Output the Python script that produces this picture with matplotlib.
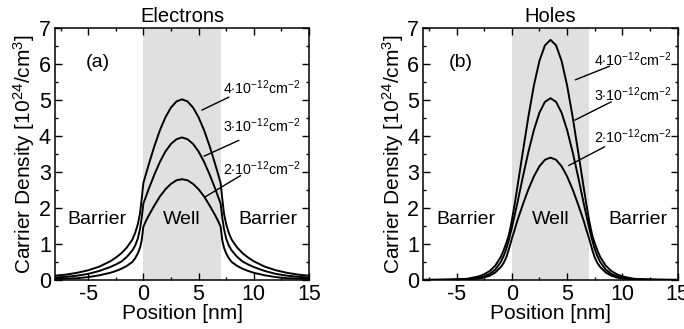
import matplotlib
matplotlib.use("Agg")
import matplotlib.pyplot as plt
from matplotlib.ticker import MultipleLocator

plt.rcParams['font.family'] = ['Liberation Sans', 'DejaVu Sans']
plt.rcParams['mathtext.fontset'] = 'custom'
plt.rcParams['mathtext.rm'] = 'Liberation Sans'
plt.rcParams['mathtext.it'] = 'Liberation Sans:italic'
plt.rcParams['mathtext.bf'] = 'Liberation Sans:bold'
plt.rcParams['axes.unicode_minus'] = False

# ---- data ----
position = [-8, -7, -6, -5, -4, -3, -2.5, -2, -1.5, -1, -0.75, -0.5, -0.3, -0.15,
            0, 0.25, 0.5, 1, 1.5, 2, 2.5, 3, 3.5, 4, 4.5, 5, 5.5, 6, 6.5, 6.75, 7,
            7.15, 7.3, 7.5, 7.75, 8, 8.5, 9, 9.5, 10, 11, 12, 13, 14, 15]

electrons_4 = [0.12, 0.15, 0.20, 0.27, 0.37, 0.52, 0.62, 0.74, 0.90, 1.12, 1.30, 1.55, 1.85, 2.25,
               2.69, 2.96, 3.22, 3.72, 4.16, 4.52, 4.79, 4.96, 5.02, 4.96, 4.79, 4.52, 4.16, 3.72, 3.22, 2.96, 2.69,
               2.25, 1.85, 1.55, 1.30, 1.12, 0.90, 0.74, 0.62, 0.52, 0.37, 0.27, 0.20, 0.15, 0.12]
electrons_3 = [0.07, 0.09, 0.12, 0.17, 0.25, 0.36, 0.43, 0.51, 0.64, 0.82, 0.95, 1.15, 1.42, 1.72,
               2.12, 2.33, 2.54, 2.93, 3.28, 3.57, 3.78, 3.91, 3.96, 3.91, 3.78, 3.57, 3.28, 2.93, 2.54, 2.33, 2.12,
               1.72, 1.42, 1.15, 0.95, 0.82, 0.64, 0.51, 0.43, 0.36, 0.25, 0.17, 0.12, 0.09, 0.07]
electrons_2 = [0.03, 0.04, 0.05, 0.08, 0.13, 0.20, 0.25, 0.31, 0.39, 0.50, 0.60, 0.74, 0.90, 1.10,
               1.48, 1.65, 1.80, 2.07, 2.32, 2.52, 2.67, 2.77, 2.80, 2.77, 2.67, 2.52, 2.32, 2.07, 1.80, 1.65, 1.48,
               1.10, 0.90, 0.74, 0.60, 0.50, 0.39, 0.31, 0.25, 0.20, 0.13, 0.08, 0.05, 0.04, 0.03]

holes_4 = [0.004, 0.006, 0.01, 0.018, 0.035, 0.10, 0.16, 0.25, 0.40, 0.64, 0.82, 1.03, 1.22, 1.42,
           1.65, 2.10, 2.58, 3.57, 4.54, 5.41, 6.09, 6.52, 6.67, 6.52, 6.09, 5.41, 4.54, 3.57, 2.58, 2.10, 1.65,
           1.42, 1.22, 1.03, 0.82, 0.64, 0.40, 0.25, 0.16, 0.10, 0.035, 0.018, 0.01, 0.006, 0.004]
holes_3 = [0.003, 0.004, 0.007, 0.014, 0.03, 0.06, 0.10, 0.17, 0.29, 0.50, 0.66, 0.86, 1.08, 1.26,
           1.45, 1.79, 2.14, 2.87, 3.56, 4.17, 4.65, 4.95, 5.05, 4.95, 4.65, 4.17, 3.56, 2.87, 2.14, 1.79, 1.45,
           1.26, 1.08, 0.86, 0.66, 0.50, 0.29, 0.17, 0.10, 0.06, 0.03, 0.014, 0.007, 0.004, 0.003]
holes_2 = [0.002, 0.003, 0.005, 0.009, 0.02, 0.04, 0.07, 0.12, 0.21, 0.36, 0.47, 0.63, 0.82, 0.98,
           1.15, 1.39, 1.65, 2.10, 2.52, 2.88, 3.16, 3.34, 3.40, 3.34, 3.16, 2.88, 2.52, 2.10, 1.65, 1.39, 1.15,
           0.98, 0.82, 0.63, 0.47, 0.36, 0.21, 0.12, 0.07, 0.04, 0.02, 0.009, 0.005, 0.003, 0.002]

well_range = (0, 7)
density_labels = [r'$4{\cdot}10^{-12}$cm$^{-2}$', r'$3{\cdot}10^{-12}$cm$^{-2}$', r'$2{\cdot}10^{-12}$cm$^{-2}$']
panel_titles = ['Electrons', 'Holes']
panel_tags = ['(a)', '(b)']

# ---- figure ----
fig = plt.figure(figsize=(6.84, 3.29), dpi=100)
axL = fig.add_axes([55 / 684, 49 / 329, 254 / 684, 252 / 329])
axR = fig.add_axes([423.5 / 684, 49 / 329, 254 / 684, 252 / 329])

panels = [
    (axL, [electrons_4, electrons_3, electrons_2],
     [((5.3, 4.72), (7.75, 5.08), (7.25, 5.33)),
      ((5.5, 3.44), (8.65, 3.88), (7.25, 4.3)),
      ((5.55, 2.3), (8.8, 2.9), (7.25, 3.1))],
     -4.2, 11.3, (-4.1, 6.05)),
    (axR, [holes_4, holes_3, holes_2],
     [((5.75, 5.56), (8.85, 5.94), (7.45, 6.12)),
      ((5.7, 4.44), (9.0, 4.95), (7.45, 5.15)),
      ((5.15, 3.18), (8.4, 3.7), (7.45, 3.98))],
     -4.2, 11.4, (-4.6, 6.05)),
]

for i, (ax, series, ann, bx1, bx2, tagpos) in enumerate(panels):
    ax.axvspan(*well_range, color='#e0e0e0', lw=0, zorder=0)
    for s in series:
        ax.plot(position, s, color='black', lw=1.4, zorder=3)
    for (p0, p1, tp), lab in zip(ann, density_labels):
        ax.annotate('', xy=p0, xytext=p1,
                    arrowprops=dict(arrowstyle='-', lw=1.0, color='black',
                                    shrinkA=0, shrinkB=0))
        ax.text(tp[0], tp[1], lab, fontsize=10.3, ha='left', va='center')
    ax.text(bx1, 1.67, 'Barrier', fontsize=14, ha='center', va='center')
    ax.text(3.5, 1.67, 'Well', fontsize=14, ha='center', va='center')
    ax.text(bx2, 1.67, 'Barrier', fontsize=14, ha='center', va='center')
    ax.text(tagpos[0], tagpos[1], panel_tags[i], fontsize=14, ha='center', va='center')

    ax.set_xlim(-8, 15)
    ax.set_ylim(0, 7)
    ax.set_xticks([-5, 0, 5, 10, 15])
    ax.xaxis.set_minor_locator(MultipleLocator(2.5))
    ax.yaxis.set_major_locator(MultipleLocator(1))
    ax.yaxis.set_minor_locator(MultipleLocator(0.5))
    ax.tick_params(which='both', direction='in', top=True, right=True,
                   width=1.0, labelsize=15.5)
    ax.tick_params(which='major', length=4.8, pad=3)
    ax.tick_params(which='minor', length=2.4)
    for sp in ax.spines.values():
        sp.set_linewidth(1.1)
    ax.set_title(panel_titles[i], fontsize=14.5, pad=4)
    ax.set_xlabel('Position [nm]', fontsize=15, labelpad=-1)
    ax.set_ylabel(r'Carrier Density [10$^{24}$/cm$^3$]', fontsize=15, labelpad=1)

fig.savefig('out.png', dpi=100)
